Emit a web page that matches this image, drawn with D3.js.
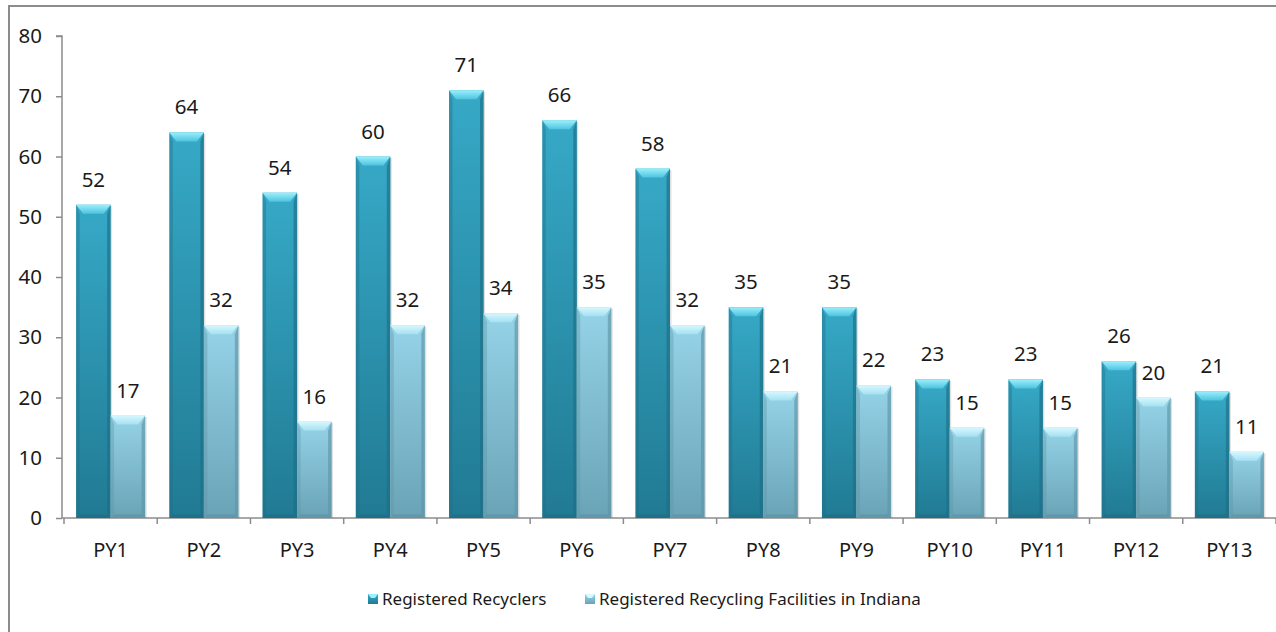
<!DOCTYPE html>
<html>
<head>
<meta charset="utf-8">
<script src="https://cdn.jsdelivr.net/npm/d3@7"></script>
<style>
  body { margin: 0; background: #fff; }
  svg { display: block; font-family: "Noto Sans", "Open Sans", sans-serif; }
</style>
</head>
<body>
<svg id="chart" width="1276" height="632"></svg>
<script>
// chart data
const years = ['PY1','PY2','PY3','PY4','PY5','PY6','PY7','PY8','PY9','PY10','PY11','PY12','PY13'];
const recyclers  = [52, 64, 54, 60, 71, 66, 58, 35, 35, 23, 23, 26, 21];
const facilities = [17, 32, 16, 32, 34, 35, 32, 21, 22, 15, 15, 20, 11];
const seriesNames = ['Registered Recyclers', 'Registered Recycling Facilities in Indiana'];
const yTicks = [0, 10, 20, 30, 40, 50, 60, 70, 80];

const svg = d3.select('#chart');
const margin = {left: 64, right: 0, top: 36, bottom: 114};
const W = 1276, H = 632;
const font = '"Noto Sans", "Open Sans", sans-serif';

// outer frame
svg.append('rect')
  .attr('x', 9).attr('y', 6)
  .attr('width', 1300).attr('height', 700)
  .style('fill', 'none').style('stroke', '#8c8c8c').style('stroke-width', 2);

const x = d3.scaleBand().domain(years).range([margin.left, W - margin.right]);
const x1 = d3.scaleBand().domain([0, 1]).range([0, 69]);
const y = d3.scaleLinear().domain([0, 80]).range([H - margin.bottom, margin.top]);

// gradients
const defs = svg.append('defs');
const palettes = [
  {id: 'g0', top: '#36a9c7', bot: '#217a93', bevel: '#4fc3de', bevel2: '#9af0fd', side: '#1d6f86', bottom: '#1b6a80'},
  {id: 'g1', top: '#95d3e8', bot: '#6aa3b6', bevel: '#a6e0f2', bevel2: '#d6f8fe', side: '#5f95a8', bottom: '#5c8fa1'}
];
palettes.forEach(p => {
  const g = defs.append('linearGradient').attr('id', p.id)
    .attr('x1', 0).attr('y1', 0).attr('x2', 0).attr('y2', 1);
  g.append('stop').attr('offset', '0%').attr('stop-color', p.top);
  g.append('stop').attr('offset', '100%').attr('stop-color', p.bot);
  const t = defs.append('linearGradient').attr('id', p.id + 't')
    .attr('x1', 0).attr('y1', 0).attr('x2', 0).attr('y2', 1);
  t.append('stop').attr('offset', '0%').attr('stop-color', p.bevel2);
  t.append('stop').attr('offset', '100%').attr('stop-color', p.bevel);
});

// y axis
const gy = svg.append('g').attr('transform', `translate(${margin.left - 2},0)`)
  .call(d3.axisLeft(y).tickValues(yTicks).tickSize(6).tickPadding(14));
gy.select('.domain').style('stroke', '#8c8c8c').style('stroke-width', 1.5)
  .attr('d', `M-6,${y(80)}H0V${y(0)}`);
gy.selectAll('.tick line').style('stroke', '#8c8c8c').style('stroke-width', 1.5);
gy.selectAll('.tick text').style('font-size', '20.5px').style('fill', '#1a1a1a')
  .style('font-family', font);

// x axis
const gx = svg.append('g').attr('transform', `translate(0,${y(0)})`);
gx.append('line').attr('x1', margin.left - 2).attr('x2', W)
  .attr('y1', 0).attr('y2', 0)
  .style('stroke', '#8c8c8c').style('stroke-width', 1.5);
const bounds = years.map(d => x(d)).concat([x(years[years.length - 1]) + x.bandwidth()]);
gx.selectAll('line.tk').data(bounds).enter().append('line').attr('class', 'tk')
  .attr('x1', d => d).attr('x2', d => d).attr('y1', 0).attr('y2', 6)
  .style('stroke', '#8c8c8c').style('stroke-width', 1.5);
gx.selectAll('text').data(years).enter().append('text')
  .attr('x', d => x(d) + x.bandwidth() / 2)
  .attr('y', 39)
  .attr('text-anchor', 'middle')
  .style('font-size', '20px').style('fill', '#1a1a1a')
  .text(d => d);

// bars
const rows = [];
years.forEach((yr, i) => {
  rows.push({yr, s: 0, v: recyclers[i]});
  rows.push({yr, s: 1, v: facilities[i]});
});

const bw = 34.5, bev = 7, bevH = 9;
const bars = svg.append('g').selectAll('g.bar').data(rows).enter().append('g')
  .attr('class', 'bar')
  .attr('transform', d => `translate(${x(d.yr) + (x.bandwidth() - 69) / 2 + x1(d.s)},0)`);

bars.append('rect')
  .attr('x', 1.5).attr('y', d => y(d.v) + 1.5)
  .attr('width', bw).attr('height', d => y(0) - y(d.v) - 1.5)
  .style('fill', 'rgba(0,0,0,0.12)');

bars.append('rect')
  .attr('x', 0).attr('y', d => y(d.v))
  .attr('width', bw).attr('height', d => y(0) - y(d.v))
  .style('fill', d => `url(#${palettes[d.s].id})`);

// side bevels
bars.append('path')
  .attr('d', d => {
    const t = y(d.v), b = y(0);
    return `M0,${t}L${bev * 0.5},${t + bevH}L${bev * 0.5},${b - bev * 0.5}L0,${b}Z`;
  })
  .style('fill', d => palettes[d.s].side).style('opacity', 0.4);
bars.append('path')
  .attr('d', d => {
    const t = y(d.v), b = y(0);
    return `M${bw},${t}L${bw - bev * 0.5},${t + bevH}L${bw - bev * 0.5},${b - bev * 0.5}L${bw},${b}Z`;
  })
  .style('fill', d => palettes[d.s].side).style('opacity', 0.65);
// bottom bevel
bars.append('path')
  .attr('d', d => {
    const b = y(0);
    return `M0,${b}L${bev * 0.5},${b - bev * 0.5}L${bw - bev * 0.5},${b - bev * 0.5}L${bw},${b}Z`;
  })
  .style('fill', d => palettes[d.s].bottom).style('opacity', 0.6);
// top bevel
bars.append('path')
  .attr('d', d => {
    const t = y(d.v);
    return `M0,${t}L${bw},${t}L${bw - bev},${t + bevH}L${bev},${t + bevH}Z`;
  })
  .style('fill', d => `url(#${palettes[d.s].id}t)`);

// value labels
bars.append('text')
  .attr('x', bw / 2).attr('y', d => y(d.v) - 18)
  .attr('text-anchor', 'middle')
  .style('font-size', '20.5px').style('fill', '#1a1a1a')
  .text(d => d.v);

// legend
const legX = [373, 590];
const leg = svg.append('g').selectAll('g').data(seriesNames).enter().append('g')
  .attr('transform', (d, i) => `translate(${legX[i]},599)`);
leg.append('rect').attr('x', -5).attr('y', -5).attr('width', 10).attr('height', 10)
  .style('fill', (d, i) => `url(#${palettes[i].id})`);
leg.append('path').attr('d', 'M-5,-5L5,-5L2,-1L-2,-1Z')
  .style('fill', (d, i) => palettes[i].bevel2);
leg.append('text').attr('x', 9).attr('y', 6)
  .style('font-size', '17px').style('fill', '#1a1a1a')
  .text(d => d);
</script>
</body>
</html>
